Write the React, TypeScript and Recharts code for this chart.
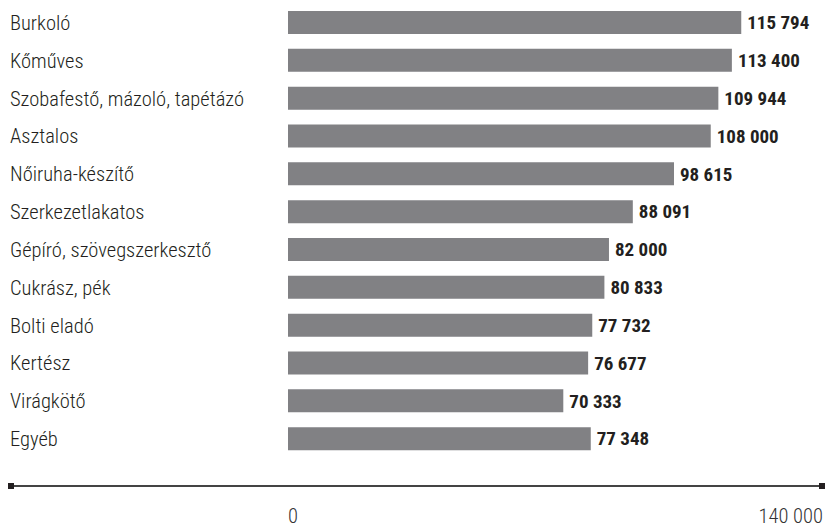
import { BarChart, Bar, XAxis, YAxis, LabelList, Customized } from "recharts";

const categories = [
  "Burkoló",
  "Kőműves",
  "Szobafestő, mázoló, tapétázó",
  "Asztalos",
  "Nőiruha-készítő",
  "Szerkezetlakatos",
  "Gépíró, szövegszerkesztő",
  "Cukrász, pék",
  "Bolti eladó",
  "Kertész",
  "Virágkötő",
  "Egyéb",
];
const wages = [115794, 113400, 109944, 108000, 98615, 88091, 82000, 80833, 77732, 76677, 70333, 77348];
const axisTicks = [0, 140000];
const axisTickLabels = ["0", "140 000"];

const data = categories.map((name, i) => ({ name, value: wages[i] }));

const FONT = "'Liberation Sans Narrow', 'Roboto Condensed', 'Arial Narrow', sans-serif";
const BAR = "#818184";
const INK = "#231f20";

const fmt = (v: number) => String(v).replace(/\B(?=(\d{3})+(?!\d))/g, " ");

function CategoryTick({ y, payload }: any) {
  return (
    <text x={10} y={y} dy={7} textAnchor="start" fontSize={20.5} fontWeight={300} fill={INK} fontFamily={FONT}>
      {payload.value}
    </text>
  );
}

function ValueTick({ x, y, payload, index }: any) {
  const last = index === axisTicks.length - 1;
  return (
    <text
      x={last ? x - 13 : x + 5}
      y={y}
      dy={57}
      textAnchor={last ? "end" : "middle"}
      fontSize={20.5}
      fontWeight={300}
      fill="#333"
      fontFamily={FONT}
    >
      {axisTickLabels[axisTicks.indexOf(payload.value)]}
    </text>
  );
}

// decorative rule under the bars, with square end caps
function AxisRule() {
  return (
    <g>
      <line x1={12} x2={822} y1={486} y2={486} stroke="#444" strokeWidth={2} />
      <rect x={8} y={483} width={6} height={6} fill={INK} />
      <rect x={819} y={483} width={6} height={6} fill={INK} />
    </g>
  );
}

export default function App() {
  return (
    <div
      style={{
        position: "fixed",
        left: 0,
        top: 0,
        width: 826,
        height: 528,
        overflow: "hidden",
        background: "#fff",
      }}
    >
      <BarChart
        width={836}
        height={528}
        data={data}
        layout="vertical"
        margin={{ top: 4, right: 0, bottom: 0, left: 8 }}
        barSize={23}
      >
        <XAxis
          type="number"
          domain={[0, 140000]}
          ticks={axisTicks}
          height={70}
          axisLine={false}
          tickLine={false}
          tick={<ValueTick />}
          interval={0}
        />
        <YAxis
          type="category"
          dataKey="name"
          width={280}
          axisLine={false}
          tickLine={false}
          tick={<CategoryTick />}
          interval={0}
        />
        <Bar dataKey="value" fill={BAR} isAnimationActive={false}>
          <LabelList
            dataKey="value"
            position="right"
            offset={6}
            formatter={(v: any) => fmt(Number(v))}
            style={{ fontFamily: FONT, fontWeight: 700, fontSize: 19, fill: INK }}
          />
        </Bar>
        <Customized component={<AxisRule />} />
      </BarChart>
    </div>
  );
}
